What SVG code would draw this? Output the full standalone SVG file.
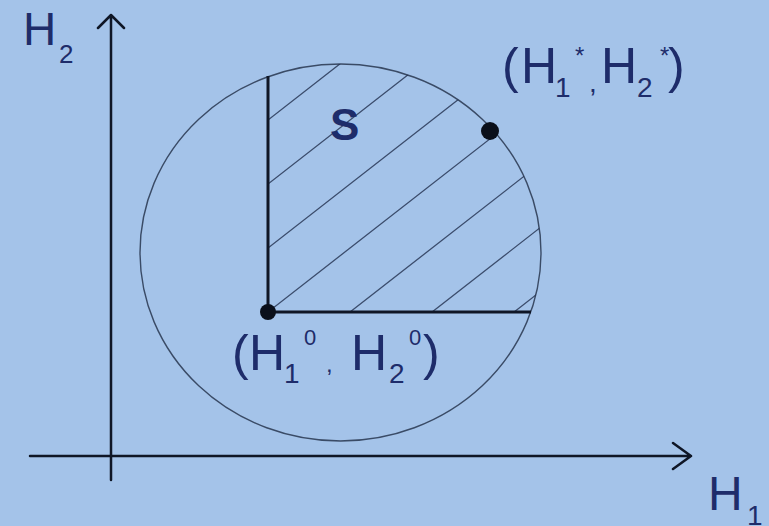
<svg xmlns="http://www.w3.org/2000/svg" width="769" height="526" viewBox="0 0 769 526">
<defs>
<style>
.lbl{font-family:"Liberation Sans",Arial,sans-serif;fill:#1e2c6a;}
.ax{stroke:#0f1626;stroke-width:2.5;fill:none;stroke-linecap:round;stroke-linejoin:round;}
.edge{stroke:#0f1626;stroke-width:3;fill:none;}
.hatch{stroke:#22304e;stroke-width:1.3;stroke-opacity:0.8;fill:none;}
.dot{fill:#0a0f1a;}
</style>
<clipPath id="reg">
<path d="M268,312 L268,60 L560,60 L560,312 Z"/>
</clipPath>
<clipPath id="ell">
<ellipse cx="340.5" cy="252.5" rx="200.5" ry="188.5"/>
</clipPath>
</defs>
<rect width="769" height="526" fill="#a4c3e9"/>

<g id="connectors">
<path class="ax" d="M30,456 L691,456 M673,443 L691,456 L673,469"/>
<path class="ax" d="M111,480 L111,15 M98,28 L111,15 L124,28"/>
</g>

<g id="circle">
<ellipse cx="340.5" cy="252.5" rx="200.5" ry="188.5" fill="none" stroke="#3a4b66" stroke-width="1.4"/>
</g>

<g id="region-S">
<g clip-path="url(#ell)">
<g clip-path="url(#reg)">
<path class="hatch" d="M268,120 L468,-36 M268,184 L568,-50 M268,248 L600,-11 M268,312 L600,53 M268,376 L600,117 M268,440 L600,181 M268,504 L600,245"/>
</g>
</g>
<path class="edge" d="M268,76 L268,312 L531,312"/>
<text class="lbl" x="330" y="140" font-size="44" font-weight="bold" fill="#16206a">S</text>
</g>

<g id="point-0">
<circle class="dot" cx="268" cy="312" r="8"/>
<text class="lbl" font-size="50"><tspan x="232" y="370">(</tspan><tspan x="249" y="370">H</tspan><tspan x="284" y="383" font-size="28">1</tspan><tspan x="304" y="345" font-size="22">0</tspan><tspan x="326" y="372" font-size="24">,</tspan><tspan x="351" y="370">H</tspan><tspan x="389" y="383" font-size="28">2</tspan><tspan x="409" y="345" font-size="22">0</tspan><tspan x="423" y="370">)</tspan></text>
</g>

<g id="point-star">
<circle class="dot" cx="490" cy="131" r="9"/>
<text class="lbl" font-size="50"><tspan x="502" y="83">(</tspan><tspan x="521" y="83">H</tspan><tspan x="555" y="97" font-size="28">1</tspan><tspan x="575" y="64" font-size="24">*</tspan><tspan x="589" y="92" font-size="28">,</tspan><tspan x="601" y="83">H</tspan><tspan x="637" y="97" font-size="28">2</tspan><tspan x="660" y="64" font-size="24">*</tspan><tspan x="668" y="83">)</tspan></text>
</g>

<g id="label-H2">
<text class="lbl" font-size="46"><tspan x="23" y="45">H</tspan><tspan x="59" y="63" font-size="26">2</tspan></text>
</g>

<g id="label-H1">
<text class="lbl" font-size="48"><tspan x="708" y="510">H</tspan><tspan x="747" y="525" font-size="28">1</tspan></text>
</g>
</svg>
